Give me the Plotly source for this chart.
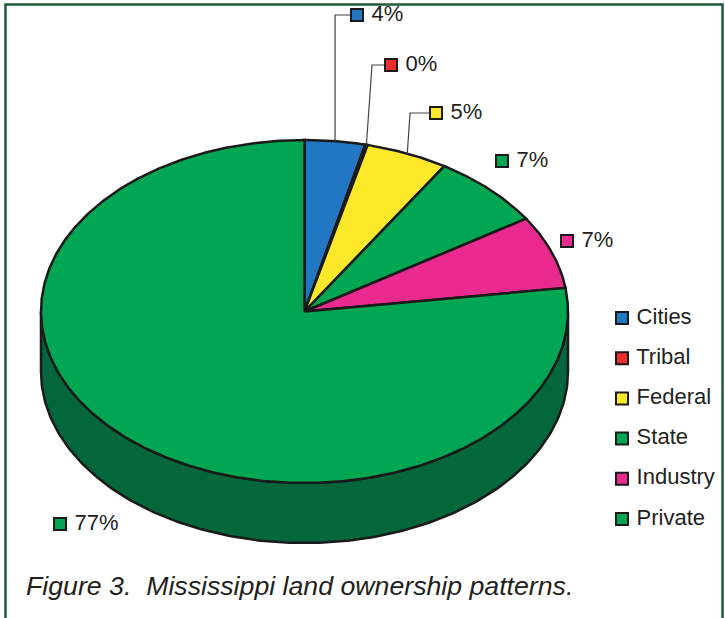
import numpy as np
import plotly.graph_objects as go

# ---- data ----
categories = ["Cities", "Tribal", "Federal", "State", "Industry", "Private"]
shares = [3.7, 0.15, 5.05, 7.0, 6.9, 77.2]
label_texts = ["4%", "0%", "5%", "7%", "7%", "77%"]

# ---- style ----
colors = ["#2177c2", "#ec2e2e", "#fde92a", "#00a651", "#ea2a8f", "#00a651"]
side_color = "#02673a"
text_color = "#231f20"
FONT = "Liberation Sans, Arial, sans-serif"

W, H = 725, 618
CX, CY, RX, RY, DEPTH = 304.5, 311.5, 263.5, 171.5, 60

# label anchor positions (marker centre) for each category
label_pos = [(357, 15), (391, 65), (436, 113), (502, 161), (567, 241), (60, 524)]
leader = [True, True, True, False, False, False]


def pt(theta_deg, dy=0.0):
    t = np.radians(theta_deg)
    return CX + RX * np.sin(t), CY - RY * np.cos(t) + dy


fig = go.Figure()

# side (front half of cylinder)
th = np.linspace(90, 270, 200)
xs_top, ys_top = pt(th)
xs_bot, ys_bot = pt(th[::-1], DEPTH)
fig.add_trace(go.Scatter(
    x=np.concatenate([xs_top, xs_bot, xs_top[:1]]),
    y=np.concatenate([ys_top, ys_bot, ys_top[:1]]),
    mode="lines", fill="toself", fillcolor=side_color,
    line=dict(color="#1a1a1a", width=2.5), hoverinfo="skip", showlegend=False))

# top slices
total = sum(shares)
cum = np.concatenate([[0], np.cumsum(shares)]) / total * 360
for i, cat in enumerate(categories):
    a0, a1 = cum[i], cum[i + 1]
    n = max(3, int((a1 - a0) * 2))
    t = np.linspace(a0, a1, n)
    x, y = pt(t)
    x = np.concatenate([[CX], x, [CX]])
    y = np.concatenate([[CY], y, [CY]])
    fig.add_trace(go.Scatter(
        x=x, y=y, mode="lines", fill="toself", fillcolor=colors[i],
        line=dict(color="#1a1a1a", width=2.5), name=cat,
        hoverinfo="name", showlegend=False))

# leader lines
for i in range(len(categories)):
    if not leader[i]:
        continue
    mid = (cum[i] + cum[i + 1]) / 2
    ex, ey = pt(mid)
    lx, ly = label_pos[i]
    elbow_x = ex + (ey - ly) * 0.07 if i > 0 else ex
    fig.add_trace(go.Scatter(
        x=[ex, elbow_x, lx - 7], y=[ey, ly, ly], mode="lines",
        line=dict(color="#444444", width=1.2), hoverinfo="skip", showlegend=False))

# data labels
fig.add_trace(go.Scatter(
    x=[p[0] for p in label_pos], y=[p[1] for p in label_pos],
    mode="markers+text", text=[" " + s for s in label_texts],
    textposition="middle right",
    textfont=dict(family=FONT, size=22, color=text_color),
    marker=dict(symbol="square", size=12, color=colors,
                line=dict(color="#1a1a1a", width=2)),
    hoverinfo="skip", showlegend=False, cliponaxis=False))

# legend (manual)
leg_x = 622
leg_y = [318 + 40.2 * i for i in range(len(categories))]
fig.add_trace(go.Scatter(
    x=[leg_x] * len(categories), y=leg_y,
    mode="markers+text", text=[" " + c for c in categories],
    textposition="middle right",
    textfont=dict(family=FONT, size=22, color=text_color),
    marker=dict(symbol="square", size=12, color=colors,
                line=dict(color="#1a1a1a", width=2)),
    hoverinfo="skip", showlegend=False, cliponaxis=False))

fig.update_layout(
    width=W, height=H, margin=dict(l=0, r=0, t=0, b=0),
    paper_bgcolor="white", plot_bgcolor="white",
    xaxis=dict(range=[0, W], visible=False, fixedrange=True),
    yaxis=dict(range=[H, 0], visible=False, fixedrange=True),
    showlegend=False,
    shapes=[dict(type="rect", xref="x", yref="y", x0=5.5, y0=4.5, x1=722.5, y1=660,
                 line=dict(color="#1d5a3a", width=2.5), fillcolor="rgba(0,0,0,0)",
                 layer="below")],
    annotations=[dict(
        x=24, y=586, xref="x", yref="y", xanchor="left", yanchor="middle",
        text="<i>Figure 3.  Mississippi land ownership patterns.</i>",
        showarrow=False, font=dict(family=FONT, size=26.7, color=text_color))],
)

fig.write_html("out.html", config={"displayModeBar": False},
               post_script="document.body.style.margin='0px';")
